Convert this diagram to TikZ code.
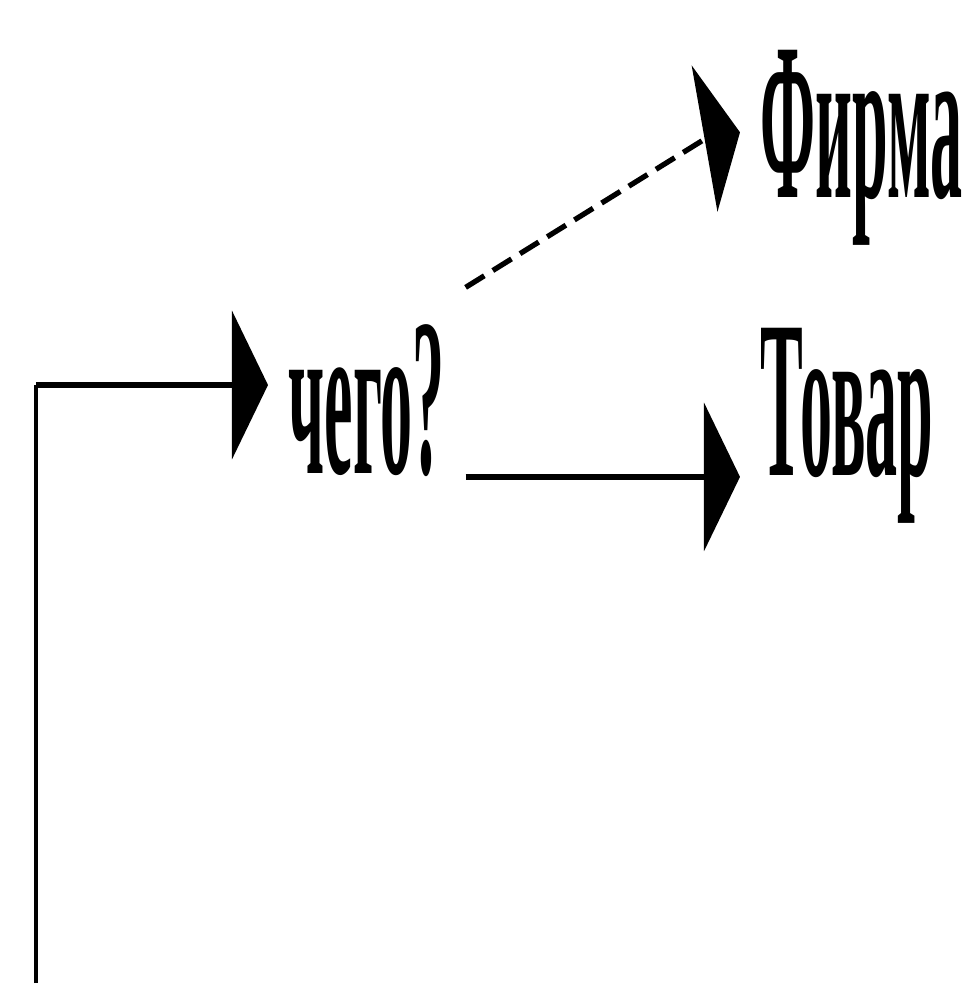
\documentclass[tikz,border=0pt]{standalone}
\usepackage{fontspec}
\newfontfamily\narrowserif[FakeStretch=0.285]{Liberation Serif}
\usetikzlibrary{arrows.meta}

\begin{document}
\begin{tikzpicture}[x=0.1mm, y=-0.1mm, >={Triangle[length=3.6mm, width=14.8mm]}, every node/.style={font=\narrowserif\bfseries\fontsize{64}{70}\selectfont, inner xsep=2mm, inner ysep=0pt}]
	\useasboundingbox (0,0) rectangle (963,985);
	\node[anchor=base west] (q) at (268,473) {чего?};
	\node[anchor=base west] (firm) at (740,197) {Фирма};
	\node[anchor=base west] (goods) at (740,475) {Товар};
	\coordinate (bot) at (36,983);
	\coordinate (corner) at (36,385);
	\coordinate (ftip) at ([yshift=1.5mm]firm.west);
	\draw[line width=0.9pt] (bot) -- (corner);
	\draw[->, line width=1.5pt] (corner) -- (corner -| q.west);
	\draw[->, line width=1.5pt] (q.south east) -- (q.south east -| goods.west);
	\draw[->, line width=1.5pt, dash pattern=on 2.2mm off 1mm] ([yshift=3.6mm]q.north east) -- ([xshift=-3.4mm, yshift=-0.6mm]ftip) -- (ftip);
\end{tikzpicture}
\end{document}
